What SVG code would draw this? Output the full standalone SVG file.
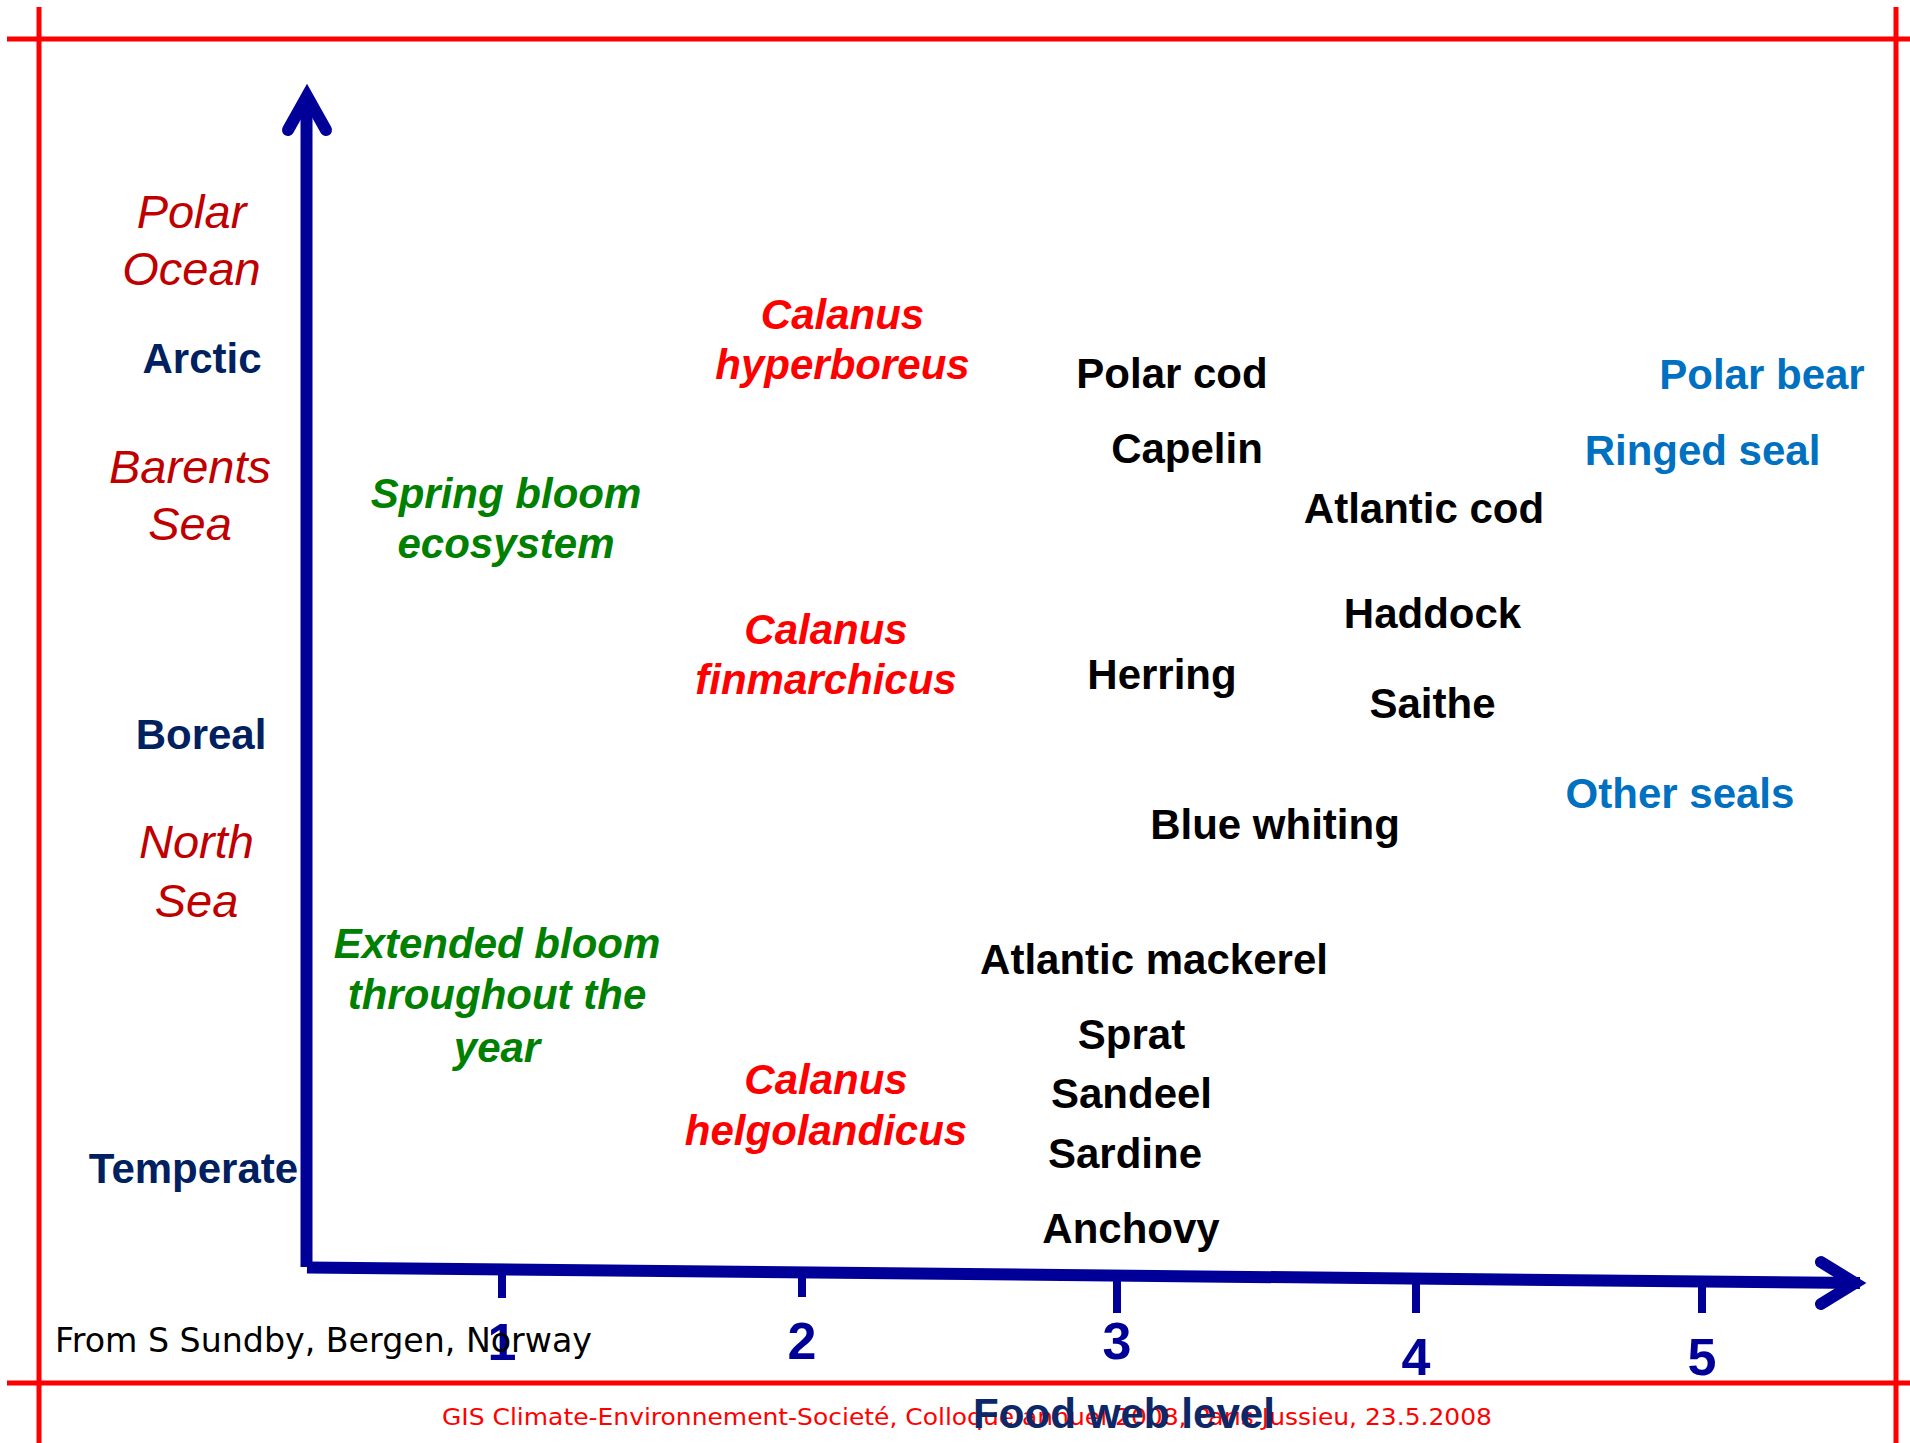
<svg xmlns="http://www.w3.org/2000/svg" width="1910" height="1443" viewBox="0 0 1910 1443">
  <style>
    text { font-family: "Liberation Sans", Arial, sans-serif; text-anchor: middle; }
    .region { font-size: 47px; font-style: italic; fill: #C00000; }
    .zone { font-size: 42px; font-weight: bold; fill: #002060; }
    .bloom { font-size: 42px; font-weight: bold; font-style: italic; fill: #008000; }
    .calanus { font-size: 42px; font-weight: bold; font-style: italic; fill: #FF0000; }
    .fish { font-size: 42px; font-weight: bold; fill: #000000; }
    .mammal { font-size: 42px; font-weight: bold; fill: #0070C0; }
    .level { font-size: 52px; font-weight: bold; fill: #000099; }
    .frame { stroke: #FF0000; stroke-width: 5; fill: none; }
    .axis { stroke: #000099; stroke-width: 12; fill: none; stroke-linecap: butt; }
    .head { stroke: #000099; stroke-width: 12; fill: none; stroke-linecap: round; stroke-linejoin: miter; stroke-miterlimit: 10; }
    .tick { stroke: #000099; stroke-width: 8; }
  </style>

  <rect width="1910" height="1443" fill="#FFFFFF"/>

  <!-- slide frame lines -->
  <g id="frame">
    <line class="frame" x1="7" y1="39" x2="1910" y2="39"/>
    <line class="frame" x1="7" y1="1383" x2="1910" y2="1383"/>
    <line class="frame" x1="39" y1="7" x2="39" y2="1443"/>
    <line class="frame" x1="1896" y1="7" x2="1896" y2="1443"/>
  </g>

  <!-- axes, arrowheads and ticks -->
  <g id="connectors">
    <line class="axis" x1="306.5" y1="1267" x2="306.5" y2="98"/>
    <polyline class="head" points="288,130 307,96 326,130"/>
    <line class="axis" x1="307" y1="1267.5" x2="1860" y2="1283"/>
    <polyline class="head" points="1821,1262 1855,1283 1821,1304"/>
    <line class="tick" x1="502" y1="1270" x2="502" y2="1298"/>
    <line class="tick" x1="802" y1="1272" x2="802" y2="1297"/>
    <line class="tick" x1="1117" y1="1276" x2="1117" y2="1313"/>
    <line class="tick" x1="1416" y1="1279" x2="1416" y2="1313"/>
    <line class="tick" x1="1702" y1="1282" x2="1702" y2="1313"/>
  </g>

  <!-- vertical axis: regions and climate zones -->
  <g id="polar-ocean"><text class="region" x="191.5" y="228">Polar</text><text class="region" x="191.5" y="285">Ocean</text></g>
  <g id="arctic"><text class="zone" x="202" y="373">Arctic</text></g>
  <g id="barents-sea"><text class="region" x="190" y="483">Barents</text><text class="region" x="190" y="540">Sea</text></g>
  <g id="boreal"><text class="zone" x="201" y="749">Boreal</text></g>
  <g id="north-sea"><text class="region" x="196.5" y="858">North</text><text class="region" x="196.5" y="916.5">Sea</text></g>
  <g id="temperate"><text class="zone" x="193.5" y="1183">Temperate</text></g>

  <!-- level 1: primary production -->
  <g id="spring-bloom"><text class="bloom" x="506" y="508">Spring bloom</text><text class="bloom" x="506" y="558">ecosystem</text></g>
  <g id="extended-bloom"><text class="bloom" x="497" y="958">Extended bloom</text><text class="bloom" x="497" y="1009">throughout the</text><text class="bloom" x="497" y="1061.5">year</text></g>

  <!-- level 2: copepods -->
  <g id="calanus-hyperboreus"><text class="calanus" x="842.5" y="329">Calanus</text><text class="calanus" x="842.5" y="379">hyperboreus</text></g>
  <g id="calanus-finmarchicus"><text class="calanus" x="826" y="644">Calanus</text><text class="calanus" x="826" y="694">finmarchicus</text></g>
  <g id="calanus-helgolandicus"><text class="calanus" x="826" y="1094">Calanus</text><text class="calanus" x="826" y="1145">helgolandicus</text></g>

  <!-- levels 3-4: fish -->
  <g id="polar-cod"><text class="fish" x="1172" y="388">Polar cod</text></g>
  <g id="capelin"><text class="fish" x="1187" y="463">Capelin</text></g>
  <g id="atlantic-cod"><text class="fish" x="1424" y="523">Atlantic cod</text></g>
  <g id="haddock"><text class="fish" x="1432.5" y="628">Haddock</text></g>
  <g id="herring"><text class="fish" x="1162" y="689">Herring</text></g>
  <g id="saithe"><text class="fish" x="1432.5" y="718">Saithe</text></g>
  <g id="blue-whiting"><text class="fish" x="1275" y="839">Blue whiting</text></g>
  <g id="atlantic-mackerel"><text class="fish" x="1154" y="974">Atlantic mackerel</text></g>
  <g id="sprat"><text class="fish" x="1131.5" y="1049">Sprat</text></g>
  <g id="sandeel"><text class="fish" x="1131.5" y="1108">Sandeel</text></g>
  <g id="sardine"><text class="fish" x="1125" y="1168">Sardine</text></g>
  <g id="anchovy"><text class="fish" x="1131" y="1243">Anchovy</text></g>

  <!-- level 5: mammals -->
  <g id="polar-bear"><text class="mammal" x="1762" y="389">Polar bear</text></g>
  <g id="ringed-seal"><text class="mammal" x="1702.5" y="465">Ringed seal</text></g>
  <g id="other-seals"><text class="mammal" x="1680" y="808">Other seals</text></g>

  <!-- horizontal axis numbering -->
  <g id="levels">
    <text class="level" x="502" y="1360">1</text>
    <text class="level" x="802" y="1359">2</text>
    <text class="level" x="1117" y="1359">3</text>
    <text class="level" x="1416" y="1375">4</text>
    <text class="level" x="1702" y="1375">5</text>
  </g>

  <!-- source and footer -->
  <g id="source"><text x="55" y="1352" style="font-family:'DejaVu Sans',sans-serif;font-size:34px;text-anchor:start;fill:#000000" textLength="537" lengthAdjust="spacingAndGlyphs">From S Sundby, Bergen, Norway</text></g>
  <g id="footer"><text x="442" y="1425" style="font-family:'DejaVu Sans',sans-serif;font-size:23.5px;text-anchor:start;fill:#FF0000" textLength="1050" lengthAdjust="spacingAndGlyphs">GIS Climate-Environnement-Societé, Colloque annuel 2008, Paris Jussieu, 23.5.2008</text></g>
  <g id="axis-title"><text x="973" y="1428" style="font-size:43px;font-weight:bold;text-anchor:start;fill:#0C2868" textLength="302" lengthAdjust="spacingAndGlyphs">Food web level</text></g>
</svg>
